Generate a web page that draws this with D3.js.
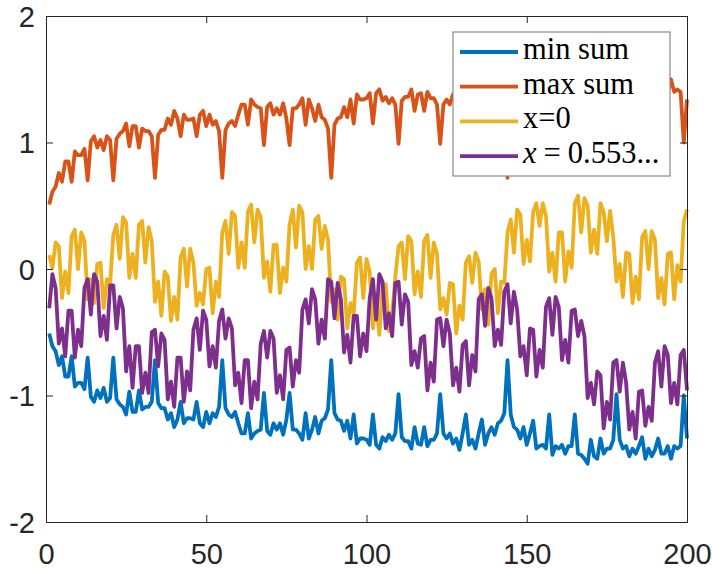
<!DOCTYPE html>
<html>
<head>
<meta charset="utf-8">
<script src="https://cdn.jsdelivr.net/npm/d3@7"></script>
<style>
	body { margin:0; background:#fff; }
	svg { display:block; }
	.tick text { font-family:"Liberation Sans", Arial, Helvetica, sans-serif; }
</style>
</head>
<body>
<div id="chart"></div>
<script>

const xTicks = [0,50,100,150,200]
const yTicks = [-2,-1,0,1,2]
const labels = ["min sum","max sum","x=0","x = 0.553..."]
const colors = ["#0072BD","#D95319","#EDB120","#7E2F8E"]

const minSum = [
	-0.51,-0.61,-0.65,-0.76,-0.69,-0.85,-0.85,-0.69,-0.93,-0.90,
	-0.90,-0.95,-0.70,-1.01,-1.05,-0.96,-1.02,-0.94,-1.05,-1.02,
	-0.70,-1.03,-1.07,-1.09,-1.15,-0.97,-1.13,-1.13,-0.96,-1.11,
	-1.09,-1.09,-1.05,-0.72,-1.06,-1.10,-1.10,-1.19,-1.14,-1.25,
	-1.19,-1.05,-1.22,-1.18,-1.18,-1.19,-1.05,-1.22,-1.25,-1.13,
	-1.22,-1.14,-1.17,-1.09,-0.72,-1.10,-1.15,-1.17,-1.13,-1.22,
	-1.30,-1.30,-1.14,-1.34,-1.30,-1.28,-1.27,-0.98,-1.28,-1.31,
	-1.22,-1.27,-1.22,-1.31,-1.19,-0.98,-1.27,-1.27,-1.30,-1.35,
	-1.14,-1.34,-1.27,-1.17,-1.30,-1.20,-1.18,-1.11,-0.72,-1.14,
	-1.19,-1.20,-1.28,-1.20,-1.34,-1.15,-1.38,-1.34,-1.34,-1.35,
	-1.39,-1.15,-1.39,-1.42,-1.33,-1.36,-1.31,-1.35,-1.30,-0.99,
	-1.33,-1.36,-1.36,-1.42,-1.25,-1.38,-1.39,-1.25,-1.40,-1.35,
	-1.35,-1.30,-0.99,-1.30,-1.34,-1.30,-1.38,-1.34,-1.43,-1.30,
	-1.15,-1.39,-1.35,-1.42,-1.30,-1.19,-1.39,-1.30,-1.25,-1.31,
	-1.22,-1.20,-1.14,-0.72,-1.15,-1.25,-1.27,-1.34,-1.25,-1.39,
	-1.30,-1.20,-1.42,-1.40,-1.39,-1.42,-1.15,-1.47,-1.40,-1.42,
	-1.39,-1.46,-1.40,-1.40,-1.15,-1.46,-1.47,-1.50,-1.54,-1.35,
	-1.48,-1.50,-1.34,-1.46,-1.42,-1.42,-1.35,-0.99,-1.35,-1.42,
	-1.40,-1.48,-1.42,-1.46,-1.40,-1.33,-1.50,-1.42,-1.48,-1.43,
	-1.34,-1.46,-1.46,-1.40,-1.50,-1.40,-1.42,-1.40,-1.00,-1.34]

const maxSum = [
	0.51,0.61,0.65,0.76,0.69,0.85,0.85,0.69,0.93,0.90,
	0.90,0.95,0.70,1.01,1.05,0.96,1.02,0.94,1.05,1.02,
	0.70,1.03,1.07,1.09,1.15,0.97,1.13,1.13,0.96,1.11,
	1.09,1.09,1.05,0.72,1.06,1.10,1.10,1.19,1.14,1.25,
	1.19,1.05,1.22,1.18,1.18,1.19,1.05,1.22,1.25,1.13,
	1.22,1.14,1.17,1.09,0.72,1.10,1.15,1.17,1.13,1.22,
	1.30,1.30,1.14,1.34,1.30,1.28,1.27,0.98,1.28,1.31,
	1.22,1.27,1.22,1.31,1.19,0.98,1.27,1.27,1.30,1.35,
	1.14,1.34,1.27,1.17,1.30,1.20,1.18,1.11,0.72,1.14,
	1.19,1.20,1.28,1.20,1.34,1.15,1.38,1.34,1.34,1.35,
	1.39,1.15,1.39,1.42,1.33,1.36,1.31,1.35,1.30,0.99,
	1.33,1.36,1.36,1.42,1.25,1.38,1.39,1.25,1.40,1.35,
	1.35,1.30,0.99,1.30,1.34,1.30,1.38,1.34,1.43,1.30,
	1.15,1.39,1.35,1.42,1.30,1.19,1.39,1.30,1.25,1.31,
	1.22,1.20,1.14,0.72,1.15,1.25,1.27,1.34,1.25,1.39,
	1.30,1.20,1.42,1.40,1.39,1.42,1.15,1.47,1.40,1.42,
	1.39,1.46,1.40,1.40,1.15,1.46,1.47,1.50,1.54,1.35,
	1.48,1.50,1.34,1.46,1.42,1.42,1.35,0.99,1.35,1.42,
	1.40,1.48,1.42,1.46,1.40,1.33,1.50,1.42,1.48,1.43,
	1.34,1.46,1.46,1.40,1.50,1.40,1.42,1.40,1.00,1.34]

const atZero = [
	0.11,0.01,0.21,0.18,-0.23,-0.02,-0.19,0.26,0.31,0.00,
	0.29,0.22,-0.24,-0.08,-0.27,0.04,0.05,-0.31,-0.08,-0.12,
	0.27,0.35,0.08,0.41,0.37,-0.07,0.12,-0.07,0.35,0.38,
	0.05,0.33,0.22,-0.26,-0.10,-0.37,-0.02,-0.06,-0.41,-0.22,
	-0.40,0.09,0.16,-0.14,0.16,0.05,-0.29,-0.19,-0.28,0.00,
	0.01,-0.35,-0.10,-0.22,0.29,0.38,0.12,0.45,0.42,0.01,
	0.21,0.01,0.45,0.51,0.21,0.47,0.41,-0.07,0.06,-0.18,
	0.19,0.19,-0.19,0.01,-0.10,0.35,0.47,0.17,0.50,0.45,
	0.00,0.18,0.00,0.39,0.42,0.16,0.34,0.23,-0.26,-0.16,
	-0.40,-0.06,-0.08,-0.47,-0.27,-0.36,0.05,0.09,-0.23,0.08,
	-0.02,-0.47,-0.24,-0.52,-0.14,-0.12,-0.49,-0.35,-0.06,0.18,
	0.21,-0.08,0.26,0.22,-0.20,-0.02,-0.22,0.22,0.27,-0.07,
	0.21,0.12,-0.32,-0.23,-0.36,-0.11,-0.12,-0.51,-0.29,-0.40,
	0.05,0.10,-0.11,0.13,0.06,-0.32,-0.16,-0.44,-0.04,0.00,
	-0.35,-0.10,-0.11,0.29,0.39,0.13,0.47,0.43,0.04,0.23,
	0.06,0.45,0.52,0.34,0.52,0.42,-0.02,0.13,-0.10,0.29,
	0.29,-0.10,0.14,0.01,0.52,0.58,0.29,0.56,0.50,0.13,
	0.31,0.12,0.52,0.45,0.22,0.46,0.25,-0.10,0.04,-0.22,
	0.13,0.12,-0.27,-0.06,-0.24,0.25,0.30,0.00,0.30,0.23,
	-0.23,-0.07,-0.28,0.12,0.13,-0.24,0.03,-0.10,0.38,0.47]

const atX553 = [
	-0.31,-0.04,-0.15,-0.59,-0.47,-0.69,-0.33,-0.33,-0.70,-0.48,
	-0.61,-0.15,-0.08,-0.36,-0.04,-0.10,-0.53,-0.37,-0.56,-0.13,
	-0.13,-0.47,-0.22,-0.31,-0.81,-0.61,-0.94,-0.61,-0.61,-0.98,
	-0.82,-0.98,-0.50,-0.48,-0.77,-0.51,-0.56,-1.03,-0.89,-1.09,
	-0.70,-0.70,-1.05,-0.81,-0.96,-0.48,-0.39,-0.64,-0.33,-0.40,
	-0.77,-0.61,-0.78,-0.41,-0.32,-0.55,-0.39,-0.47,-0.92,-0.82,
	-1.06,-0.72,-0.72,-1.10,-0.89,-1.03,-0.59,-0.49,-0.70,-0.49,
	-0.55,-0.98,-0.84,-1.03,-0.64,-0.62,-0.93,-0.72,-0.82,-0.32,
	-0.24,-0.43,-0.16,-0.24,-0.59,-0.40,-0.55,-0.08,-0.10,-0.39,
	-0.11,-0.24,-0.66,-0.52,-0.74,-0.37,-0.37,-0.69,-0.51,-0.65,
	-0.23,-0.08,-0.40,-0.04,-0.10,-0.47,-0.35,-0.53,-0.11,-0.10,
	-0.44,-0.20,-0.26,-0.76,-0.65,-0.78,-0.55,-0.53,-0.96,-0.74,
	-0.89,-0.40,-0.39,-0.61,-0.40,-0.51,-0.92,-0.78,-0.97,-0.60,
	-0.57,-0.92,-0.68,-0.81,-0.24,-0.20,-0.45,-0.15,-0.23,-0.61,
	-0.48,-0.60,-0.18,-0.12,-0.43,-0.18,-0.32,-0.69,-0.61,-0.84,
	-0.47,-0.48,-0.85,-0.64,-0.78,-0.30,-0.23,-0.52,-0.22,-0.30,
	-0.72,-0.56,-0.74,-0.33,-0.32,-0.53,-0.41,-0.53,-1.02,-0.90,
	-1.07,-0.81,-0.84,-1.26,-1.05,-1.19,-0.74,-0.72,-0.97,-0.74,
	-0.90,-1.27,-1.13,-1.34,-0.97,-0.96,-1.24,-1.09,-1.20,-0.74,
	-0.65,-0.93,-0.61,-0.68,-1.06,-0.90,-1.07,-0.68,-0.64,-0.96]

const series = [minSum, maxSum, atZero, atX553]

const width = 712, height = 569
const margin = {top:16, right:25, bottom:47, left:46}

const svg = d3.select("#chart").append("svg")
	.attr("width",width)
	.attr("height",height)

const x = d3.scaleLinear().domain([0,200]).range([margin.left, width-margin.right])
const y = d3.scaleLinear().domain([-2,2]).range([height-margin.bottom, margin.top])

const tickLen = 7
const axisColor = "#262626"
const plainNum = d => String(d)

const line = d3.line()
	.x((d,i)=>x(i+1))
	.y(d=>y(d))

svg.append("g").selectAll("path").data(series).enter().append("path")
	.attr("d",line)
	.attr("fill","none")
	.attr("stroke",(d,i)=>colors[i])
	.attr("stroke-width",3.8)
	.attr("stroke-linejoin","round")

// axes: ticks inside, mirrored on top/right like a boxed plot
const gx = svg.append("g")
	.attr("transform","translate(0,"+y(-2)+")")
	.call(d3.axisBottom(x).tickValues(xTicks).tickSize(-tickLen).tickPadding(tickLen+14).tickFormat(plainNum))
const gy = svg.append("g")
	.attr("transform","translate("+x(0)+",0)")
	.call(d3.axisLeft(y).tickValues(yTicks).tickSize(-tickLen).tickPadding(11).tickFormat(plainNum))
svg.append("g")
	.attr("transform","translate(0,"+y(2)+")")
	.call(d3.axisTop(x).tickValues(xTicks).tickSize(-tickLen).tickFormat(""))
svg.append("g")
	.attr("transform","translate("+x(200)+",0)")
	.call(d3.axisRight(y).tickValues(yTicks).tickSize(-tickLen).tickFormat(""))

svg.selectAll(".domain, .tick line").attr("stroke",axisColor).attr("stroke-width",1)
svg.selectAll(".tick text")
	.attr("fill",axisColor)
	.style("font-size","29px")
gy.selectAll(".tick text").attr("dy","0.36em")

// legend
const lg = svg.append("g").attr("transform","translate(453,32)")
lg.append("rect")
	.attr("width",217)
	.attr("height",144)
	.attr("fill","#fff")
	.attr("stroke","#8a8a8a")
	.attr("stroke-width",1.2)

const rows = lg.selectAll("g.row").data(labels).enter().append("g")
	.attr("class","row")
	.attr("transform",(d,i)=>"translate(0,"+(20+i*34.7)+")")
rows.append("line")
	.attr("x1",7).attr("x2",65)
	.attr("stroke",(d,i)=>colors[i])
	.attr("stroke-width",3.8)
const txt = rows.append("text")
	.attr("x",70)
	.attr("y",7)
	.style("font-family","'Liberation Serif','Times New Roman',serif")
	.style("font-size","30.5px")
	.attr("fill","#000")
txt.filter((d,i)=>i<3).text(d=>d)
const mathRow = txt.filter((d,i)=>i==3)
mathRow.append("tspan").style("font-style","italic").text("x")
mathRow.append("tspan").attr("dx",7).text("=")
mathRow.append("tspan").attr("dx",7).text("0.553...")

</script>
</body>
</html>
